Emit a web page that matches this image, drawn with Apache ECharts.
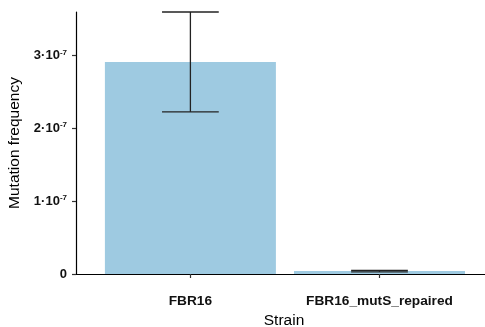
<!DOCTYPE html>
<html>
<head>
<meta charset="utf-8">
<script src="https://cdn.jsdelivr.net/npm/echarts@6/dist/echarts.min.js"></script>
<style>
  html, body { margin: 0; padding: 0; background: #fff; }
  #chart { width: 485px; height: 327px; }
</style>
</head>
<body>
<div id="chart"></div>
<script>
// Strains and their mean mutation frequency with standard deviation
const strains = ['FBR16', 'FBR16_mutS_repaired'];
const meanFreq = [2.91e-7, 4.0e-9];
const sdFreq = [6.85e-8, 1.0e-9];
const yTicks = [0, 1e-7, 2e-7, 3e-7];

const FONT = '"Liberation Sans", Arial, Helvetica, sans-serif';
const positions = strains.map((_, i) => i + 1);

const barData = strains.map((s, i) => [positions[i], meanFreq[i]]);
const errData = strains.map((s, i) => [positions[i], meanFreq[i] - sdFreq[i], meanFreq[i] + sdFreq[i]]);

function yLabel(v) {
  const n = Math.round(v / 1e-7);
  if (n === 0) return '{b|0}';
  return '{b|' + n + '·10}{s|-7}';
}

const chart = echarts.init(document.getElementById('chart'), null, { renderer: 'canvas' });
chart.setOption({
  animation: false,
  backgroundColor: '#ffffff',
  grid: { left: 76, top: 12, bottom: 53, right: -7, containLabel: false, outerBoundsMode: 'none' },
  xAxis: {
    type: 'value',
    min: 0.395,
    max: 2.595,
    name: 'Strain',
    nameLocation: 'middle',
    nameGap: 38,
    nameTextStyle: { fontFamily: FONT, fontSize: 15.5, color: '#000' },
    splitLine: { show: false },
    axisLine: { show: true, onZero: false, lineStyle: { color: '#000', width: 1.2 } },
    axisTick: { show: true, length: 4, customValues: positions, lineStyle: { color: '#333', width: 1.2 } },
    axisLabel: {
      customValues: positions,
      margin: 20,
      fontFamily: FONT, fontSize: 13.7, fontWeight: 'bold', color: '#111',
      formatter: v => strains[Math.round(v) - 1] || ''
    }
  },
  yAxis: {
    type: 'value',
    min: 0,
    max: 3.595e-7,
    name: 'Mutation frequency',
    nameLocation: 'middle',
    nameGap: 49,
    nameTextStyle: { fontFamily: FONT, fontSize: 15.5, color: '#000' },
    splitLine: { show: false },
    axisLine: { show: true, lineStyle: { color: '#000', width: 1.2 } },
    axisTick: { show: true, length: 4, customValues: yTicks, lineStyle: { color: '#333', width: 1.2 } },
    axisLabel: {
      customValues: yTicks,
      margin: 9,
      formatter: yLabel,
      rich: {
        b: { fontFamily: FONT, fontSize: 13, fontWeight: 'bold', color: '#111', lineHeight: 14 },
        s: { fontFamily: FONT, fontSize: 8, fontWeight: 'bold', color: '#111', verticalAlign: 'top', lineHeight: 14 }
      }
    }
  },
  series: [
    {
      type: 'bar',
      data: barData,
      barWidth: 171,
      itemStyle: { color: '#9ecae1' },
      z: 2
    },
    {
      type: 'custom',
      data: errData,
      z: 3,
      renderItem: function (params, api) {
        const x = api.value(0);
        const lo = api.coord([x, api.value(1)]);
        const hi = api.coord([x, api.value(2)]);
        const half = api.size([0.15, 0])[0];
        const style = { stroke: '#222', lineWidth: 1.3, fill: null };
        return {
          type: 'group',
          children: [
            { type: 'line', shape: { x1: lo[0], y1: lo[1], x2: hi[0], y2: hi[1] }, style: style },
            { type: 'line', shape: { x1: hi[0] - half, y1: hi[1], x2: hi[0] + half, y2: hi[1] }, style: style },
            { type: 'line', shape: { x1: lo[0] - half, y1: lo[1], x2: lo[0] + half, y2: lo[1] }, style: style }
          ]
        };
      }
    }
  ]
});
</script>
</body>
</html>
